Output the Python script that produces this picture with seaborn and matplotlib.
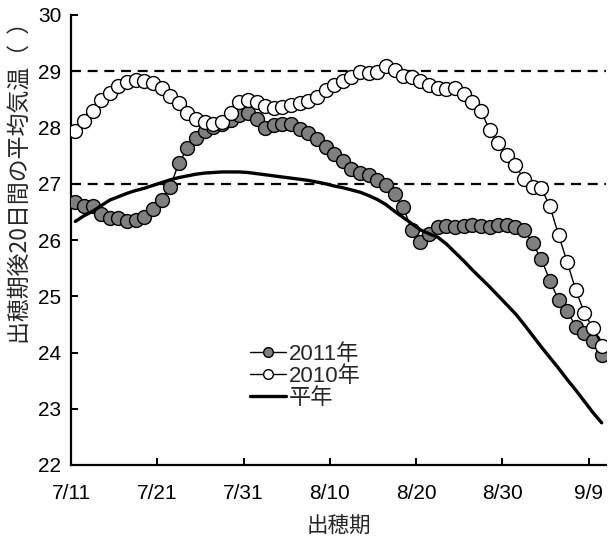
import numpy as np
import pandas as pd
import matplotlib
matplotlib.use("Agg")
import matplotlib.pyplot as plt
import seaborn as sns

# Mean air temperature over the 20 days after heading, by heading date (7/11 - 9/10)
tick_labels = ["7/11", "7/21", "7/31", "8/10", "8/20", "8/30", "9/9"]

temp_2011 = [
    26.68, 26.60, 26.60, 26.47, 26.40, 26.39, 26.34, 26.36, 26.41, 26.55,
    26.72, 26.95, 27.37, 27.63, 27.82, 27.93, 28.01, 28.07, 28.13, 28.22,
    28.25, 28.15, 28.00, 28.04, 28.07, 28.06, 27.97, 27.90, 27.79, 27.66,
    27.53, 27.40, 27.27, 27.20, 27.16, 27.07, 26.98, 26.82, 26.58, 26.18,
    25.97, 26.11, 26.23, 26.25, 26.23, 26.25, 26.27, 26.25, 26.24, 26.27,
    26.27, 26.23, 26.18, 25.94, 25.66, 25.28, 24.93, 24.74, 24.46, 24.34,
    24.21, 23.96,
]

temp_2010 = [
    27.93, 28.12, 28.29, 28.49, 28.62, 28.74, 28.81, 28.84, 28.83, 28.79,
    28.70, 28.56, 28.43, 28.25, 28.16, 28.10, 28.06, 28.10, 28.25, 28.46,
    28.49, 28.46, 28.38, 28.34, 28.37, 28.40, 28.44, 28.47, 28.55, 28.67,
    28.75, 28.83, 28.89, 28.99, 28.97, 28.99, 29.09, 29.03, 28.92, 28.89,
    28.83, 28.76, 28.70, 28.68, 28.70, 28.60, 28.46, 28.30, 27.96, 27.73,
    27.51, 27.33, 27.08, 26.95, 26.92, 26.60, 26.09, 25.61, 25.11, 24.70,
    24.43, 24.12,
]

temp_normal = [
    26.33, 26.43, 26.51, 26.61, 26.71, 26.77, 26.83, 26.88, 26.92, 26.97,
    27.02, 27.07, 27.11, 27.14, 27.17, 27.19, 27.20, 27.21, 27.21, 27.21,
    27.20, 27.18, 27.16, 27.14, 27.12, 27.10, 27.08, 27.06, 27.03, 27.00,
    26.96, 26.93, 26.89, 26.85, 26.79, 26.72, 26.63, 26.51, 26.40, 26.29,
    26.18, 26.11, 26.05, 25.93, 25.78, 25.63, 25.47, 25.32, 25.17, 25.01,
    24.85, 24.69, 24.50, 24.30, 24.10, 23.91, 23.72, 23.52, 23.33, 23.13,
    22.93, 22.75,
]

reference_levels = [27, 29]

n_days = len(temp_2011)
day = np.arange(n_days) + 0.5  # each day plotted at the middle of its slot
df = pd.DataFrame({"day": day, "y2011": temp_2011, "y2010": temp_2010, "normal": temp_normal})

sns.set_style("ticks")
plt.rcParams["font.family"] = ["Liberation Sans", "Noto Sans CJK JP", "DejaVu Sans"]

fig = plt.figure(figsize=(6.16, 5.47), dpi=100)
ax = fig.add_axes([71 / 616, 82 / 547, 535 / 616, 450 / 547])

for lvl in reference_levels:
    ax.axhline(lvl, color="black", linestyle=(0, (4.5, 3)), linewidth=1.6, zorder=1)

sns.lineplot(data=df, x="day", y="y2011", ax=ax, color="black", linewidth=1.0,
             marker="o", markersize=10, markerfacecolor="#7f7f7f",
             markeredgecolor="black", markeredgewidth=1.0, label="2011年", zorder=3)
sns.lineplot(data=df, x="day", y="y2010", ax=ax, color="black", linewidth=1.0,
             marker="o", markersize=10, markerfacecolor="white",
             markeredgecolor="black", markeredgewidth=1.0, label="2010年", zorder=4)
sns.lineplot(data=df, x="day", y="normal", ax=ax, color="black", linewidth=2.4,
             label="平年", zorder=5)

ax.set_xlim(0, n_days)
ax.set_ylim(22, 30)
ax.set_xticks(np.arange(len(tick_labels)) * 10)
ax.set_xticklabels(tick_labels)
ax.set_yticks(np.arange(22, 31, 1))

for s in ["top", "right"]:
    ax.spines[s].set_visible(False)
for s in ["left", "bottom"]:
    ax.spines[s].set_linewidth(1.6)
    ax.spines[s].set_color("black")
ax.tick_params(direction="in", length=5, width=1.4, labelsize=15, colors="black")
ax.tick_params(axis="x", pad=14)
ax.tick_params(axis="y", pad=7)

ax.set_xlabel("出穂期", fontsize=15.5, family=["Noto Sans CJK JP"])
ax.xaxis.set_label_coords(0.5, -0.11)
ax.set_ylabel("出穂期後20日間の平均気温（  ）", fontsize=16.5, family=["Noto Sans CJK JP"])
ax.yaxis.set_label_coords(-0.074, 0.64)

leg = ax.legend(loc="upper left", bbox_to_anchor=(0.335, 0.27), frameon=False,
                handlelength=1.6, handletextpad=0.15, labelspacing=0.05,
                borderaxespad=0, borderpad=0, markerscale=0.7,
                prop={"family": ["Liberation Sans", "Noto Sans CJK JP"], "size": 16})

fig.savefig("out.png", dpi=100)
